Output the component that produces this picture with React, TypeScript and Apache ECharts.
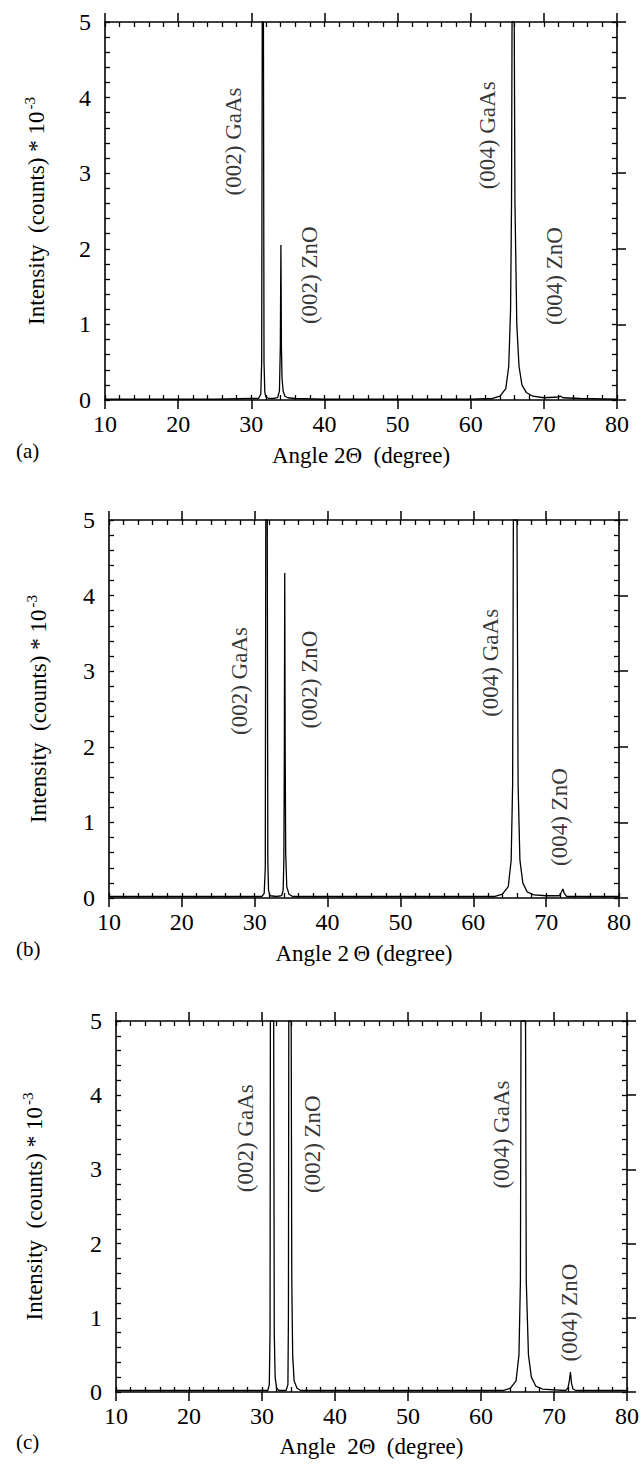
import React, { useEffect, useRef } from "react";
import * as echarts from "echarts";

// ---------- data ----------
const xTickLabels = ["10", "20", "30", "40", "50", "60", "70", "80"];
const yTickLabels = ["0", "1", "2", "3", "4", "5"];

// panel (a)
const angleA = [10, 15, 20, 25, 30, 31.0, 31.3, 31.42, 31.5, 31.66, 31.74, 31.85, 32.0, 32.4, 33.0, 33.6, 33.85, 33.97, 34.05, 34.12, 34.2, 34.35, 34.6, 35.0, 36, 40, 45, 50, 55, 60, 63.0, 64.0, 64.8, 65.2, 65.45, 65.58, 65.65, 65.95, 66.05, 66.3, 66.6, 67.0, 67.6, 68.5, 70, 72.0, 72.3, 72.6, 75, 80];
const intensityA = [0.01, 0.01, 0.01, 0.01, 0.02, 0.02, 0.08, 0.5, 5, 5, 0.5, 0.1, 0.04, 0.02, 0.02, 0.03, 0.12, 0.7, 2.05, 0.7, 0.3, 0.12, 0.05, 0.03, 0.02, 0.01, 0.01, 0.01, 0.01, 0.01, 0.02, 0.05, 0.15, 0.45, 1.2, 2.6, 5, 5, 2.6, 1.0, 0.45, 0.2, 0.1, 0.05, 0.03, 0.04, 0.05, 0.03, 0.02, 0.01];

// panel (b)
const angleB = [10, 15, 20, 25, 30, 31.0, 31.3, 31.45, 31.52, 31.72, 31.8, 31.9, 32.1, 33.0, 33.7, 33.9, 34.0, 34.07, 34.12, 34.18, 34.25, 34.4, 34.7, 35.2, 40, 45, 50, 55, 60, 63.0, 64.0, 64.8, 65.2, 65.4, 65.5, 66.0, 66.15, 66.4, 66.8, 67.4, 68.3, 70, 71.8, 72.1, 72.3, 72.5, 72.8, 75, 80];
const intensityB = [0.02, 0.02, 0.02, 0.02, 0.02, 0.02, 0.06, 0.4, 5, 5, 0.5, 0.1, 0.03, 0.02, 0.03, 0.1, 0.5, 2.0, 4.3, 2.0, 0.6, 0.15, 0.05, 0.02, 0.02, 0.02, 0.02, 0.02, 0.02, 0.02, 0.05, 0.15, 0.5, 1.5, 5, 5, 1.5, 0.5, 0.2, 0.08, 0.04, 0.03, 0.03, 0.08, 0.12, 0.06, 0.02, 0.02, 0.02];

// panel (c)
const angleC = [10, 15, 20, 25, 30, 30.8, 31.0, 31.1, 31.15, 31.6, 31.68, 31.8, 32.0, 32.3, 33.3, 33.55, 33.62, 33.67, 34.0, 34.08, 34.2, 34.4, 34.8, 35.3, 40, 45, 50, 55, 60, 63.0, 64.0, 64.8, 65.2, 65.4, 65.48, 66.1, 66.2, 66.5, 66.9, 67.5, 68.4, 70, 71.6, 71.9, 72.1, 72.25, 72.4, 72.6, 73.0, 75, 80];
const intensityC = [0.02, 0.02, 0.02, 0.02, 0.02, 0.02, 0.1, 0.8, 5, 5, 0.8, 0.2, 0.05, 0.02, 0.02, 0.1, 1.0, 5, 5, 1.5, 0.5, 0.15, 0.05, 0.02, 0.02, 0.02, 0.02, 0.02, 0.02, 0.02, 0.05, 0.15, 0.5, 1.5, 5, 5, 1.5, 0.5, 0.2, 0.08, 0.04, 0.03, 0.02, 0.05, 0.15, 0.27, 0.12, 0.04, 0.02, 0.02, 0.02];

// peak labels (positions in data coordinates: angle, intensity at label centre)
const peakLabels = ["(002) GaAs", "(002) ZnO", "(004) GaAs", "(004) ZnO"];
const labelAngleA = [27.5, 37.9, 62.3, 71.5];
const labelIntensityA = [3.42, 1.65, 3.5, 1.64];
const labelAngleB = [27.9, 37.5, 62.3, 71.8];
const labelIntensityB = [2.87, 2.89, 3.11, 1.07];
const labelAngleC = [27.8, 36.9, 62.8, 72.1];
const labelIntensityC = [3.42, 3.34, 3.47, 1.07];

const panelNames = ["(a)", "(b)", "(c)"];
const xTitles = ["Angle 2\u0398  (degree)", "Angle 2\u2009\u0398 (degree)", "Angle  2\u0398  (degree)"];
const yTitle = "Intensity  (counts) * 10{sup|-3}";

// ---------- layout ----------
const FONT = "'Liberation Serif', 'Times New Roman', serif";
const grids = [
  { left: 105, top: 22, width: 512, height: 378 },
  { left: 109, top: 520, width: 510, height: 378 },
  { left: 116, top: 1021, width: 511, height: 371 },
];
const yNameGaps = [55, 57, 68];
const xNameGaps = [44, 44, 43];
const panelLabelPos = [
  { x: 16, y: 452 },
  { x: 16, y: 950 },
  { x: 16, y: 1443 },
];

const panels = [
  { angle: angleA, intensity: intensityA, la: labelAngleA, li: labelIntensityA },
  { angle: angleB, intensity: intensityB, la: labelAngleB, li: labelIntensityB },
  { angle: angleC, intensity: intensityC, la: labelAngleC, li: labelIntensityC },
];

function buildOption() {
  const xAxis: any[] = [];
  const yAxis: any[] = [];
  const series: any[] = [];
  const graphic: any[] = [];
  const axisLine = { show: true, onZero: false, lineStyle: { color: "#000", width: 1.6 } };
  const noLine = { show: false, onZero: false };
  const majorOut = { show: true, inside: false, length: 9, lineStyle: { color: "#000", width: 1.5 } };
  const minorIn = { show: true, inside: true, length: 5, lineStyle: { color: "#000", width: 1.3 } };

  panels.forEach((p, g) => {
    const xBase = { type: "value", gridIndex: g, min: 10, max: 80, splitLine: { show: false } };
    const yBase = { type: "value", gridIndex: g, min: 0, max: 5, splitLine: { show: false } };
    const xMain = xAxis.length;
    // bottom: labels + outward major ticks
    xAxis.push({
      ...xBase,
      interval: 10,
      position: "bottom",
      axisLine,
      axisTick: majorOut,
      axisLabel: {
        show: true,
        color: "#000",
        fontFamily: FONT,
        fontSize: 24,
        margin: 12,
        formatter: (v: number) => xTickLabels[Math.round((v - 10) / 10)] ?? "",
      },
      name: xTitles[g],
      nameLocation: "middle",
      nameGap: xNameGaps[g],
      nameTextStyle: { color: "#000", fontFamily: FONT, fontSize: 23 },
      z: 5,
    });
    // bottom: inward small ticks every 2 degrees
    xAxis.push({
      ...xBase,
      interval: 2,
      position: "bottom",
      axisLine: noLine,
      axisTick: minorIn,
      axisLabel: { show: false },
    });
    // top: outward major ticks
    xAxis.push({
      ...xBase,
      interval: 10,
      position: "top",
      axisLine,
      axisTick: majorOut,
      axisLabel: { show: false },
      z: 5,
    });
    // top: inward small ticks
    xAxis.push({
      ...xBase,
      interval: 2,
      position: "top",
      axisLine: noLine,
      axisTick: minorIn,
      axisLabel: { show: false },
    });

    const yMain = yAxis.length;
    yAxis.push({
      ...yBase,
      interval: 1,
      position: "left",
      axisLine,
      axisTick: { show: false },
      axisLabel: {
        show: true,
        color: "#000",
        fontFamily: FONT,
        fontSize: 24,
        margin: 14,
        formatter: (v: number) => yTickLabels[Math.round(v)] ?? "",
      },
      name: yTitle,
      nameLocation: "middle",
      nameRotate: 90,
      nameGap: yNameGaps[g],
      nameTextStyle: {
        color: "#000",
        fontFamily: FONT,
        fontSize: 23,
        lineHeight: 28,
        rich: {
          sup: { fontFamily: FONT, fontSize: 15, color: "#000", verticalAlign: "top", lineHeight: 28, padding: [0, 0, 10, 2] },
        },
      },
      z: 5,
    });
    // left: inward small ticks every 0.2
    yAxis.push({
      ...yBase,
      interval: 0.2,
      position: "left",
      axisLine: noLine,
      axisTick: minorIn,
      axisLabel: { show: false },
    });
    yAxis.push({
      ...yBase,
      interval: 1,
      position: "right",
      axisLine,
      axisTick: majorOut,
      axisLabel: { show: false },
      z: 5,
    });
    yAxis.push({
      ...yBase,
      interval: 0.2,
      position: "right",
      axisLine: noLine,
      axisTick: minorIn,
      axisLabel: { show: false },
    });

    series.push({
      type: "line",
      xAxisIndex: xMain,
      yAxisIndex: yMain,
      data: p.angle.map((a, i) => [a, p.intensity[i]]),
      showSymbol: false,
      symbol: "none",
      clip: true,
      lineStyle: { color: "#000", width: 1.3 },
      z: 3,
    });
    series.push({
      type: "scatter",
      xAxisIndex: xMain,
      yAxisIndex: yMain,
      symbolSize: 1,
      itemStyle: { color: "rgba(0,0,0,0)" },
      data: peakLabels.map((t, i) => [p.la[i], p.li[i], t]),
      label: {
        show: true,
        position: "inside",
        rotate: 90,
        formatter: (d: any) => d.data[2],
        color: "#000",
        fontFamily: FONT,
        fontSize: 23,
      },
      z: 4,
    });

    graphic.push({
      type: "text",
      left: panelLabelPos[g].x,
      top: panelLabelPos[g].y - 12,
      style: { text: panelNames[g], fill: "#000", font: `21px ${FONT}` },
    });
  });

  return {
    animation: false,
    backgroundColor: "#fff",
    grid: grids.map((g) => ({ ...g, containLabel: false })),
    xAxis,
    yAxis,
    series,
    graphic,
  };
}

export default function App() {
  const ref = useRef<HTMLDivElement>(null);
  useEffect(() => {
    document.body.style.margin = "0";
    if (!ref.current) return;
    const chart = echarts.init(ref.current, null, { renderer: "svg" });
    chart.setOption(buildOption() as any);
    return () => chart.dispose();
  }, []);
  return <div ref={ref} style={{ width: 642, height: 1467 }} />;
}
